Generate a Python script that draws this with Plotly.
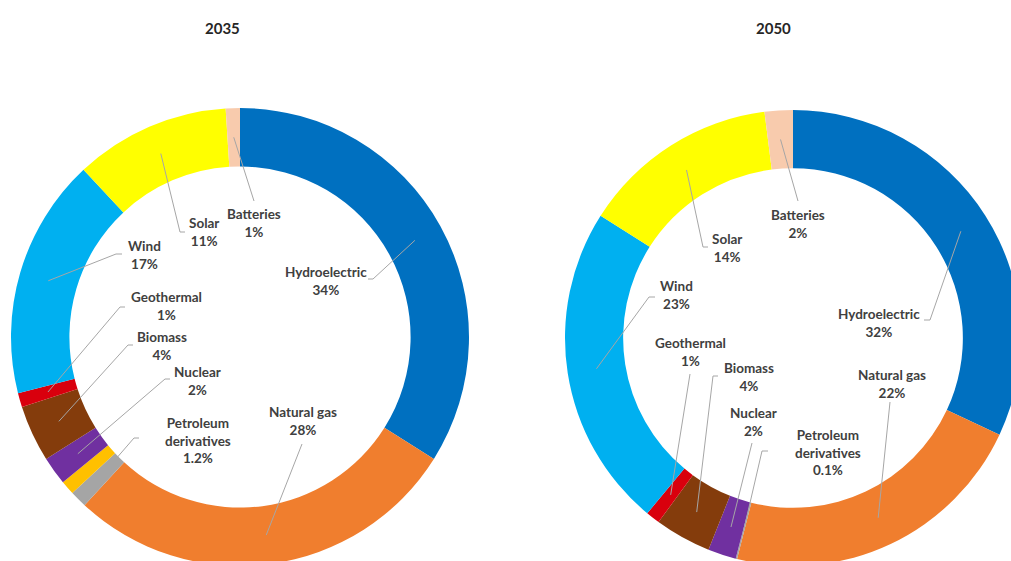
import math
import plotly.graph_objects as go

# ---- data -------------------------------------------------------------
categories = ["Hydroelectric", "Natural gas", "Petroleum derivatives", "Other",
              "Nuclear", "Biomass", "Geothermal", "Wind", "Solar", "Batteries"]
values_2035 = [34, 28, 1.2, 1, 2, 4, 1, 17, 11, 1]
values_2050 = [32, 22, 0.1, 0, 2, 4, 1, 23, 14, 2]
years = ["2035", "2050"]

colors = ["#0070C0", "#F07E2E", "#A5A5A5", "#FFC000", "#7030A0",
          "#843C0C", "#D9000D", "#00B0F0", "#FFFF00", "#F8CBAD"]

# ---- layout constants (pixels, origin top-left) -----------------------
W, H = 1030, 580
PIE_GEOM = {  # centre x, centre y, outer radius
    "2035": (240, 337, 229),
    "2050": (793, 338, 228),
}
HOLE = 0.745
TITLE_POS = {"2035": (222, 28), "2050": (773, 28)}

# label block centre, leader-line end near the text, short horizontal tail
LABEL_POS = {
    "2035": {
        "Hydroelectric": ((326, 281), (373, 279), -5),
        "Natural gas": ((303, 421), (302, 444), 0),
        "Petroleum derivatives": ((198, 440), (134, 438), 5),
        "Nuclear": ((197, 381), (165, 379), 5),
        "Biomass": ((162, 346), (128, 345), 5),
        "Geothermal": ((166, 306), (120, 307), 5),
        "Wind": ((144, 255), (116, 254), 6),
        "Solar": ((204, 232), (180, 232), 5),
        "Batteries": ((254, 223), (254, 201), 0),
    },
    "2050": {
        "Hydroelectric": ((879, 323), (930, 320), -6),
        "Natural gas": ((892, 384), (890, 402), 0),
        "Petroleum derivatives": ((828, 452), (762, 451), 6),
        "Nuclear": ((753, 422), (752, 443), 0),
        "Biomass": ((749, 377), (713, 376), 5),
        "Geothermal": ((690, 352), (690, 374), 0),
        "Wind": ((676, 295), (649, 297), 6),
        "Solar": ((727, 248), (703, 247), 5),
        "Batteries": ((798, 224), (798, 201), 0),
    },
}

FONT = "Lato"
TEXT_COLOR = "#404040"
LINE_COLOR = "#A6A6A6"


def px_x(x):
    return x / W


def px_y(y):
    return 1 - y / H


def fmt(name, v):
    lines = name.split(" ") if name == "Petroleum derivatives" else [name]
    return "<br>".join(lines + [f"{v:g}%"])


fig = go.Figure()
annotations = []
shapes = []

for year, vals in zip(years, [values_2035, values_2050]):
    cx, cy, r = PIE_GEOM[year]
    fig.add_trace(go.Pie(
        labels=categories,
        values=vals,
        hole=HOLE,
        sort=False,
        direction="clockwise",
        rotation=0,
        marker=dict(colors=colors, line=dict(width=0)),
        textinfo="none",
        hoverinfo="label+value",
        showlegend=False,
        domain=dict(x=[px_x(cx - r), px_x(cx + r)],
                    y=[px_y(cy + r), px_y(cy - r)]),
    ))

    tx, ty = TITLE_POS[year]
    annotations.append(dict(
        x=px_x(tx), y=px_y(ty), xref="paper", yref="paper",
        text=f"<b>{year}</b>", showarrow=False,
        font=dict(family=FONT, size=15, color="#262626"),
        xanchor="center", yanchor="middle"))

    total = sum(vals)
    mid_r = r * (1 + HOLE) / 2
    cum = 0.0
    for name, v in zip(categories, vals):
        frac_mid = (cum + v / 2) / total
        cum += v
        if name not in LABEL_POS[year]:
            continue
        (lx, ly), (ex, ey), tail = LABEL_POS[year][name]
        theta = 2 * math.pi * frac_mid
        ax = cx + mid_r * math.sin(theta)
        ay = cy - mid_r * math.cos(theta)
        path = f"M {px_x(ax)},{px_y(ay)} L {px_x(ex)},{px_y(ey)}"
        if tail:
            path += f" L {px_x(ex + tail)},{px_y(ey)}"
        shapes.append(dict(type="path", xref="paper", yref="paper", path=path,
                           line=dict(color=LINE_COLOR, width=1)))
        annotations.append(dict(
            x=px_x(lx), y=px_y(ly), xref="paper", yref="paper",
            text=f"<b>{fmt(name, v)}</b>", showarrow=False,
            font=dict(family=FONT, size=13.5, color=TEXT_COLOR),
            xanchor="center", yanchor="middle", align="center"))

fig.update_layout(
    width=W, height=H,
    margin=dict(l=0, r=0, t=0, b=0),
    paper_bgcolor="white",
    plot_bgcolor="white",
    annotations=annotations,
    shapes=shapes,
)

fig.write_html(
    "out.html",
    post_script="document.documentElement.style.overflow='hidden';"
                "document.body.style.overflow='hidden';",
)
